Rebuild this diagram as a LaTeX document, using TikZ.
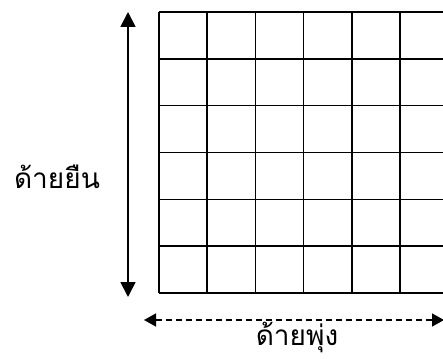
\documentclass[tikz,border=0pt]{standalone}
\usepackage{fontspec}
\newfontfamily\thaifont[Script=Thai]{Loma}
\usetikzlibrary{arrows.meta}
\begin{document}
\begin{tikzpicture}[x=1pt,y=-1pt,
  gridline/.style={line width=1.6pt,black},
  arr/.style={line width=1.8pt,-{Triangle[width=15pt,length=15pt]}},
  darr/.style={line width=1.5pt,dash pattern=on 6pt off 4pt,{Triangle[width=13pt,length=12pt]}-{Triangle[width=13pt,length=12pt]}},
  lbl/.style={font=\thaifont\fontsize{28}{33}\selectfont,inner sep=0pt}]
\useasboundingbox (0,0) rectangle (443,358);
\begin{scope}
\clip (0,0) rectangle (443,358);
\foreach \i in {0,...,6} {
  \draw[gridline] (159+48.2*\i,12) -- (159+48.2*\i,293);
}
\foreach \j in {0,...,6} {
  \draw[gridline] (159,12+46.83*\j) -- (460,12+46.83*\j);
}
\coordinate (vtop) at (128,12);
\coordinate (vbot) at (128,297);
\coordinate (hl) at (144,320);
\coordinate (hr) at (444,320);
\draw[arr] (128,154) -- (vtop);
\draw[arr] (128,154) -- (vbot);
\draw[darr] (hl) -- (hr);
\end{scope}
\node[lbl] (warp) at (57,177) {ด้ายยืน};
\node[lbl] (weft) at (297,337) {ด้ายพุ่ง};
\end{tikzpicture}
\end{document}
